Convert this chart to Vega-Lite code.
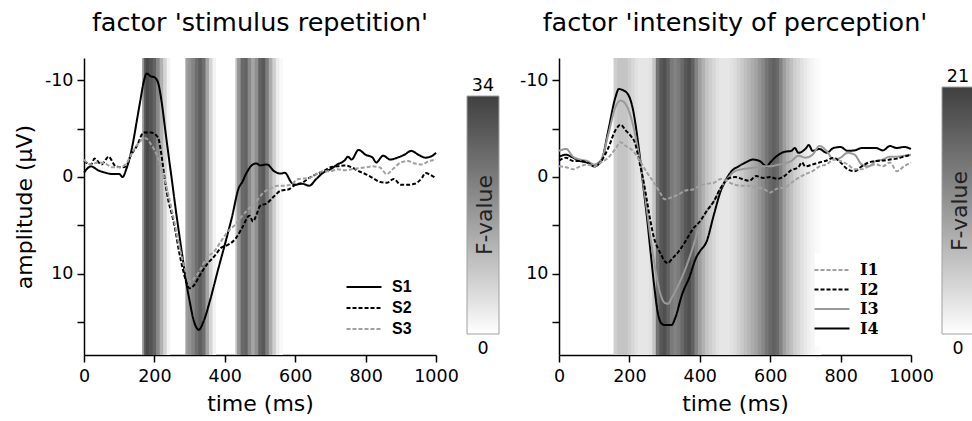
{
  "$schema": "https://vega.github.io/schema/vega-lite/v6.json",
  "background": "white",
  "padding": {"left": 13, "top": 10, "right": 0, "bottom": 0},
  "spacing": 19,
  "resolve": {
    "scale": {"fill": "independent", "stroke": "independent", "strokeDash": "independent"},
    "legend": {"fill": "independent", "stroke": "independent", "strokeDash": "independent"}
  },
  "config": {
    "font": "DejaVu Sans",
    "view": {"stroke": null},
    "axis": {
      "domainColor": "black", "domainWidth": 1.5, "tickColor": "black", "tickWidth": 1.5, "tickSize": 7,
      "labelFont": "DejaVu Sans", "labelFontSize": 17.5, "labelColor": "black", "labelPadding": 4,
      "titleFont": "DejaVu Sans", "titleFontSize": 22, "titleFontWeight": "normal", "titleColor": "black",
      "grid": false, "labelOverlap": false, "labelFlush": false
    },
    "axisX": {"labelPadding": 5},
    "title": {"font": "DejaVu Sans", "fontSize": 25.5, "fontWeight": "normal", "color": "black", "offset": 22}
  },
  "datasets": {
    "F1": [
      {"t0": 165, "t1": 172, "F": 16}, {"t0": 170, "t1": 177, "F": 28}, {"t0": 175, "t1": 187, "F": 32},
      {"t0": 185, "t1": 197, "F": 30}, {"t0": 195, "t1": 207, "F": 27}, {"t0": 205, "t1": 217, "F": 20},
      {"t0": 215, "t1": 227, "F": 13}, {"t0": 225, "t1": 237, "F": 7}, {"t0": 235, "t1": 245, "F": 2},
      {"t0": 288, "t1": 297, "F": 16}, {"t0": 295, "t1": 307, "F": 18}, {"t0": 305, "t1": 317, "F": 21},
      {"t0": 315, "t1": 327, "F": 25}, {"t0": 325, "t1": 337, "F": 28}, {"t0": 335, "t1": 347, "F": 25},
      {"t0": 345, "t1": 357, "F": 15}, {"t0": 355, "t1": 367, "F": 7}, {"t0": 365, "t1": 375, "F": 2},
      {"t0": 430, "t1": 437, "F": 10}, {"t0": 435, "t1": 447, "F": 18}, {"t0": 445, "t1": 457, "F": 26},
      {"t0": 455, "t1": 467, "F": 27}, {"t0": 465, "t1": 477, "F": 20}, {"t0": 475, "t1": 487, "F": 15},
      {"t0": 485, "t1": 497, "F": 19}, {"t0": 495, "t1": 507, "F": 27}, {"t0": 505, "t1": 517, "F": 29},
      {"t0": 515, "t1": 527, "F": 22}, {"t0": 525, "t1": 537, "F": 14}, {"t0": 535, "t1": 547, "F": 8},
      {"t0": 545, "t1": 557, "F": 3}, {"t0": 555, "t1": 565, "F": 1}
    ],
    "F2": [
      {"t0": 155, "t1": 167, "F": 5}, {"t0": 165, "t1": 177, "F": 6}, {"t0": 175, "t1": 187, "F": 6},
      {"t0": 185, "t1": 197, "F": 6}, {"t0": 195, "t1": 207, "F": 5}, {"t0": 205, "t1": 217, "F": 4},
      {"t0": 215, "t1": 227, "F": 3}, {"t0": 225, "t1": 237, "F": 2.5}, {"t0": 235, "t1": 247, "F": 2.5},
      {"t0": 245, "t1": 257, "F": 2.5}, {"t0": 255, "t1": 267, "F": 3}, {"t0": 265, "t1": 277, "F": 6},
      {"t0": 275, "t1": 287, "F": 15}, {"t0": 285, "t1": 297, "F": 18}, {"t0": 295, "t1": 307, "F": 19},
      {"t0": 305, "t1": 317, "F": 17}, {"t0": 315, "t1": 327, "F": 14}, {"t0": 325, "t1": 337, "F": 13},
      {"t0": 335, "t1": 347, "F": 14}, {"t0": 345, "t1": 357, "F": 16}, {"t0": 355, "t1": 367, "F": 18},
      {"t0": 365, "t1": 377, "F": 19}, {"t0": 375, "t1": 387, "F": 17}, {"t0": 385, "t1": 397, "F": 13},
      {"t0": 395, "t1": 407, "F": 10}, {"t0": 405, "t1": 417, "F": 8}, {"t0": 415, "t1": 427, "F": 6},
      {"t0": 425, "t1": 437, "F": 5}, {"t0": 435, "t1": 447, "F": 4}, {"t0": 445, "t1": 457, "F": 3},
      {"t0": 455, "t1": 467, "F": 2.5}, {"t0": 465, "t1": 477, "F": 2.5}, {"t0": 475, "t1": 487, "F": 2.5},
      {"t0": 485, "t1": 497, "F": 3}, {"t0": 495, "t1": 507, "F": 3.5}, {"t0": 505, "t1": 517, "F": 4.5},
      {"t0": 515, "t1": 527, "F": 5.5}, {"t0": 525, "t1": 537, "F": 6.5}, {"t0": 535, "t1": 547, "F": 7.5},
      {"t0": 545, "t1": 557, "F": 8.5}, {"t0": 555, "t1": 567, "F": 9.5}, {"t0": 565, "t1": 577, "F": 11},
      {"t0": 575, "t1": 587, "F": 12.5}, {"t0": 585, "t1": 597, "F": 14.5}, {"t0": 595, "t1": 607, "F": 16},
      {"t0": 605, "t1": 617, "F": 17}, {"t0": 615, "t1": 627, "F": 16}, {"t0": 625, "t1": 637, "F": 13},
      {"t0": 635, "t1": 647, "F": 10}, {"t0": 645, "t1": 657, "F": 8}, {"t0": 655, "t1": 667, "F": 6.5},
      {"t0": 665, "t1": 677, "F": 5}, {"t0": 675, "t1": 687, "F": 4}, {"t0": 685, "t1": 697, "F": 3},
      {"t0": 695, "t1": 707, "F": 2.2}, {"t0": 705, "t1": 717, "F": 1.5}, {"t0": 715, "t1": 727, "F": 1},
      {"t0": 725, "t1": 737, "F": 0.6}, {"t0": 735, "t1": 745, "F": 0.3}
    ],
    "S": [
      {"s": "S1", "t": 0, "v": -0.45}, {"s": "S1", "t": 20, "v": -1.1}, {"s": "S1", "t": 40, "v": -0.7},
      {"s": "S1", "t": 60, "v": -0.45}, {"s": "S1", "t": 80, "v": -0.3}, {"s": "S1", "t": 100, "v": -0.3},
      {"s": "S1", "t": 110, "v": 0}, {"s": "S1", "t": 120, "v": -0.8}, {"s": "S1", "t": 130, "v": -2},
      {"s": "S1", "t": 140, "v": -3.7}, {"s": "S1", "t": 150, "v": -5.8}, {"s": "S1", "t": 160, "v": -7.9},
      {"s": "S1", "t": 170, "v": -9.9}, {"s": "S1", "t": 178, "v": -10.7}, {"s": "S1", "t": 190, "v": -10.4},
      {"s": "S1", "t": 200, "v": -10.3}, {"s": "S1", "t": 210, "v": -9.8}, {"s": "S1", "t": 220, "v": -7.9},
      {"s": "S1", "t": 230, "v": -5.1}, {"s": "S1", "t": 240, "v": -2.3}, {"s": "S1", "t": 250, "v": 0.4},
      {"s": "S1", "t": 260, "v": 3.2}, {"s": "S1", "t": 270, "v": 5.8}, {"s": "S1", "t": 280, "v": 8.3},
      {"s": "S1", "t": 290, "v": 10.8}, {"s": "S1", "t": 300, "v": 12.8}, {"s": "S1", "t": 310, "v": 14.6},
      {"s": "S1", "t": 320, "v": 15.6}, {"s": "S1", "t": 326, "v": 15.8}, {"s": "S1", "t": 340, "v": 14.9},
      {"s": "S1", "t": 360, "v": 12.5}, {"s": "S1", "t": 380, "v": 9.7}, {"s": "S1", "t": 400, "v": 7},
      {"s": "S1", "t": 420, "v": 4.2}, {"s": "S1", "t": 440, "v": 1.1}, {"s": "S1", "t": 450, "v": 0.5},
      {"s": "S1", "t": 460, "v": -0.3}, {"s": "S1", "t": 480, "v": -1.3}, {"s": "S1", "t": 490, "v": -1.4},
      {"s": "S1", "t": 500, "v": -1.2}, {"s": "S1", "t": 520, "v": -1.3}, {"s": "S1", "t": 540, "v": -0.6},
      {"s": "S1", "t": 560, "v": -0.35}, {"s": "S1", "t": 570, "v": -0.45}, {"s": "S1", "t": 590, "v": 0.6},
      {"s": "S1", "t": 600, "v": 0.8}, {"s": "S1", "t": 620, "v": 0.7}, {"s": "S1", "t": 640, "v": 0.9},
      {"s": "S1", "t": 660, "v": 0.2}, {"s": "S1", "t": 680, "v": -0.45}, {"s": "S1", "t": 700, "v": -0.8},
      {"s": "S1", "t": 720, "v": -1.3}, {"s": "S1", "t": 740, "v": -1.7}, {"s": "S1", "t": 750, "v": -2.1},
      {"s": "S1", "t": 760, "v": -1.8}, {"s": "S1", "t": 780, "v": -2.8}, {"s": "S1", "t": 800, "v": -2.3},
      {"s": "S1", "t": 820, "v": -2}, {"s": "S1", "t": 830, "v": -1.5}, {"s": "S1", "t": 850, "v": -2.2},
      {"s": "S1", "t": 870, "v": -1.8}, {"s": "S1", "t": 890, "v": -2}, {"s": "S1", "t": 910, "v": -2.3},
      {"s": "S1", "t": 930, "v": -2.7}, {"s": "S1", "t": 950, "v": -2.3}, {"s": "S1", "t": 970, "v": -2},
      {"s": "S1", "t": 990, "v": -2.2}, {"s": "S1", "t": 1000, "v": -2.5},

      {"s": "S2", "t": 0, "v": -1.65}, {"s": "S2", "t": 20, "v": -1.3}, {"s": "S2", "t": 30, "v": -1.9},
      {"s": "S2", "t": 50, "v": -1.3}, {"s": "S2", "t": 70, "v": -2.1}, {"s": "S2", "t": 90, "v": -1.1},
      {"s": "S2", "t": 110, "v": -1}, {"s": "S2", "t": 120, "v": -1.1}, {"s": "S2", "t": 130, "v": -2},
      {"s": "S2", "t": 150, "v": -3.2}, {"s": "S2", "t": 170, "v": -4.6}, {"s": "S2", "t": 190, "v": -4.6},
      {"s": "S2", "t": 210, "v": -4.1}, {"s": "S2", "t": 220, "v": -2.3}, {"s": "S2", "t": 230, "v": 0.4},
      {"s": "S2", "t": 240, "v": 2.5}, {"s": "S2", "t": 250, "v": 3.9}, {"s": "S2", "t": 260, "v": 5.6},
      {"s": "S2", "t": 270, "v": 7.7}, {"s": "S2", "t": 280, "v": 9.4}, {"s": "S2", "t": 290, "v": 10.8},
      {"s": "S2", "t": 300, "v": 11.5}, {"s": "S2", "t": 310, "v": 11.3}, {"s": "S2", "t": 330, "v": 10.1},
      {"s": "S2", "t": 350, "v": 9}, {"s": "S2", "t": 370, "v": 8.2}, {"s": "S2", "t": 390, "v": 7.3},
      {"s": "S2", "t": 410, "v": 7}, {"s": "S2", "t": 430, "v": 6.4}, {"s": "S2", "t": 450, "v": 5.2},
      {"s": "S2", "t": 470, "v": 4}, {"s": "S2", "t": 480, "v": 4.6}, {"s": "S2", "t": 490, "v": 3.9},
      {"s": "S2", "t": 500, "v": 3}, {"s": "S2", "t": 520, "v": 2.7}, {"s": "S2", "t": 540, "v": 2},
      {"s": "S2", "t": 560, "v": 1.4}, {"s": "S2", "t": 580, "v": 1.3}, {"s": "S2", "t": 600, "v": 0.8},
      {"s": "S2", "t": 620, "v": 0.6}, {"s": "S2", "t": 640, "v": 0.1}, {"s": "S2", "t": 660, "v": -0.3},
      {"s": "S2", "t": 680, "v": -0.6}, {"s": "S2", "t": 700, "v": -1}, {"s": "S2", "t": 720, "v": -1.1},
      {"s": "S2", "t": 740, "v": -1.2}, {"s": "S2", "t": 760, "v": -1}, {"s": "S2", "t": 780, "v": -0.6},
      {"s": "S2", "t": 800, "v": -0.3}, {"s": "S2", "t": 820, "v": 0.1}, {"s": "S2", "t": 840, "v": 0.5},
      {"s": "S2", "t": 860, "v": 0.6}, {"s": "S2", "t": 880, "v": 0.2}, {"s": "S2", "t": 900, "v": 0.8},
      {"s": "S2", "t": 920, "v": 0.8}, {"s": "S2", "t": 940, "v": 0.7}, {"s": "S2", "t": 960, "v": 0.1},
      {"s": "S2", "t": 970, "v": -0.4}, {"s": "S2", "t": 990, "v": -0.1}, {"s": "S2", "t": 1000, "v": 0.1},

      {"s": "S3", "t": 0, "v": -1.8}, {"s": "S3", "t": 20, "v": -1.3}, {"s": "S3", "t": 40, "v": -1.5},
      {"s": "S3", "t": 60, "v": -1.4}, {"s": "S3", "t": 80, "v": -1}, {"s": "S3", "t": 100, "v": -1},
      {"s": "S3", "t": 120, "v": -1.4}, {"s": "S3", "t": 140, "v": -2.7}, {"s": "S3", "t": 160, "v": -3.7},
      {"s": "S3", "t": 175, "v": -4}, {"s": "S3", "t": 190, "v": -3.4}, {"s": "S3", "t": 210, "v": -2},
      {"s": "S3", "t": 230, "v": 0.4}, {"s": "S3", "t": 250, "v": 3.5}, {"s": "S3", "t": 270, "v": 7},
      {"s": "S3", "t": 290, "v": 9.9}, {"s": "S3", "t": 300, "v": 10.8}, {"s": "S3", "t": 310, "v": 10.6},
      {"s": "S3", "t": 330, "v": 9.6}, {"s": "S3", "t": 350, "v": 8.3}, {"s": "S3", "t": 370, "v": 7.7},
      {"s": "S3", "t": 390, "v": 6.6}, {"s": "S3", "t": 410, "v": 5.6}, {"s": "S3", "t": 430, "v": 4.9},
      {"s": "S3", "t": 450, "v": 4}, {"s": "S3", "t": 470, "v": 3.2}, {"s": "S3", "t": 490, "v": 2.5},
      {"s": "S3", "t": 510, "v": 1.6}, {"s": "S3", "t": 530, "v": 1.2}, {"s": "S3", "t": 550, "v": 0.9},
      {"s": "S3", "t": 570, "v": 0.9}, {"s": "S3", "t": 590, "v": 0.7}, {"s": "S3", "t": 610, "v": 0.2},
      {"s": "S3", "t": 640, "v": 0.1}, {"s": "S3", "t": 660, "v": -0.3}, {"s": "S3", "t": 680, "v": -0.6},
      {"s": "S3", "t": 700, "v": -0.6}, {"s": "S3", "t": 720, "v": -0.8}, {"s": "S3", "t": 740, "v": -0.7},
      {"s": "S3", "t": 760, "v": -0.8}, {"s": "S3", "t": 780, "v": -0.9}, {"s": "S3", "t": 800, "v": -1},
      {"s": "S3", "t": 820, "v": -1.1}, {"s": "S3", "t": 840, "v": -1}, {"s": "S3", "t": 860, "v": -0.3},
      {"s": "S3", "t": 880, "v": -0.9}, {"s": "S3", "t": 900, "v": -1.5}, {"s": "S3", "t": 920, "v": -1.65},
      {"s": "S3", "t": 940, "v": -1.4}, {"s": "S3", "t": 960, "v": -1.3}, {"s": "S3", "t": 980, "v": -1.65},
      {"s": "S3", "t": 1000, "v": -1.8}
    ],
    "I": [
      {"s": "I4", "t": 0, "v": -2.1}, {"s": "I4", "t": 20, "v": -2.3}, {"s": "I4", "t": 40, "v": -2},
      {"s": "I4", "t": 60, "v": -1.65}, {"s": "I4", "t": 80, "v": -1.5}, {"s": "I4", "t": 100, "v": -1.1},
      {"s": "I4", "t": 120, "v": -1.65}, {"s": "I4", "t": 140, "v": -4.8}, {"s": "I4", "t": 160, "v": -8.2},
      {"s": "I4", "t": 170, "v": -9.1}, {"s": "I4", "t": 180, "v": -9}, {"s": "I4", "t": 195, "v": -8.6},
      {"s": "I4", "t": 210, "v": -7}, {"s": "I4", "t": 220, "v": -4.8}, {"s": "I4", "t": 230, "v": -2},
      {"s": "I4", "t": 240, "v": 1.1}, {"s": "I4", "t": 250, "v": 4.2}, {"s": "I4", "t": 260, "v": 7.7},
      {"s": "I4", "t": 270, "v": 11.1}, {"s": "I4", "t": 280, "v": 13.9}, {"s": "I4", "t": 290, "v": 15.1},
      {"s": "I4", "t": 300, "v": 15.3}, {"s": "I4", "t": 320, "v": 15.3}, {"s": "I4", "t": 330, "v": 14.6},
      {"s": "I4", "t": 350, "v": 12.1}, {"s": "I4", "t": 370, "v": 10.4}, {"s": "I4", "t": 390, "v": 8.3},
      {"s": "I4", "t": 400, "v": 7.7}, {"s": "I4", "t": 420, "v": 6.6}, {"s": "I4", "t": 440, "v": 3.9},
      {"s": "I4", "t": 460, "v": 1.4}, {"s": "I4", "t": 470, "v": 0.6}, {"s": "I4", "t": 490, "v": -0.6},
      {"s": "I4", "t": 510, "v": -1.1}, {"s": "I4", "t": 530, "v": -1.5}, {"s": "I4", "t": 550, "v": -1.8},
      {"s": "I4", "t": 570, "v": -1.65}, {"s": "I4", "t": 590, "v": -1.1}, {"s": "I4", "t": 600, "v": -1.5},
      {"s": "I4", "t": 620, "v": -2.2}, {"s": "I4", "t": 640, "v": -2.6}, {"s": "I4", "t": 660, "v": -2.7},
      {"s": "I4", "t": 670, "v": -3}, {"s": "I4", "t": 680, "v": -2.5}, {"s": "I4", "t": 700, "v": -2.9},
      {"s": "I4", "t": 710, "v": -3.3}, {"s": "I4", "t": 720, "v": -2.7}, {"s": "I4", "t": 740, "v": -2.9},
      {"s": "I4", "t": 760, "v": -2.5}, {"s": "I4", "t": 780, "v": -3}, {"s": "I4", "t": 800, "v": -3.1},
      {"s": "I4", "t": 820, "v": -2.7}, {"s": "I4", "t": 840, "v": -2.75}, {"s": "I4", "t": 860, "v": -3},
      {"s": "I4", "t": 880, "v": -3}, {"s": "I4", "t": 900, "v": -3}, {"s": "I4", "t": 920, "v": -2.75},
      {"s": "I4", "t": 940, "v": -3.2}, {"s": "I4", "t": 960, "v": -3}, {"s": "I4", "t": 980, "v": -3.1},
      {"s": "I4", "t": 1000, "v": -2.9},

      {"s": "I3", "t": 0, "v": -2.7}, {"s": "I3", "t": 20, "v": -2.9}, {"s": "I3", "t": 40, "v": -2.1},
      {"s": "I3", "t": 60, "v": -1.8}, {"s": "I3", "t": 80, "v": -1.65}, {"s": "I3", "t": 100, "v": -1.3},
      {"s": "I3", "t": 120, "v": -1.8}, {"s": "I3", "t": 140, "v": -4.4}, {"s": "I3", "t": 160, "v": -7.2},
      {"s": "I3", "t": 175, "v": -7.9}, {"s": "I3", "t": 190, "v": -7.5}, {"s": "I3", "t": 205, "v": -6.1},
      {"s": "I3", "t": 220, "v": -3.7}, {"s": "I3", "t": 230, "v": -1.65}, {"s": "I3", "t": 240, "v": 0.8},
      {"s": "I3", "t": 250, "v": 3.5}, {"s": "I3", "t": 260, "v": 6.3}, {"s": "I3", "t": 270, "v": 8.7},
      {"s": "I3", "t": 280, "v": 10.8}, {"s": "I3", "t": 290, "v": 12.3}, {"s": "I3", "t": 300, "v": 13},
      {"s": "I3", "t": 310, "v": 13.1}, {"s": "I3", "t": 320, "v": 12.5}, {"s": "I3", "t": 340, "v": 11.1},
      {"s": "I3", "t": 360, "v": 9.4}, {"s": "I3", "t": 380, "v": 7.3}, {"s": "I3", "t": 400, "v": 4.9},
      {"s": "I3", "t": 420, "v": 3.5}, {"s": "I3", "t": 440, "v": 2.5}, {"s": "I3", "t": 460, "v": 1.1},
      {"s": "I3", "t": 480, "v": 0.1}, {"s": "I3", "t": 500, "v": -0.6}, {"s": "I3", "t": 520, "v": -0.8},
      {"s": "I3", "t": 540, "v": -0.9}, {"s": "I3", "t": 560, "v": -1}, {"s": "I3", "t": 580, "v": -1.1},
      {"s": "I3", "t": 600, "v": -1.1}, {"s": "I3", "t": 620, "v": -1.25}, {"s": "I3", "t": 640, "v": -1.4},
      {"s": "I3", "t": 660, "v": -1.65}, {"s": "I3", "t": 680, "v": -2.2}, {"s": "I3", "t": 700, "v": -2},
      {"s": "I3", "t": 720, "v": -2.3}, {"s": "I3", "t": 740, "v": -3.2}, {"s": "I3", "t": 760, "v": -2.7},
      {"s": "I3", "t": 780, "v": -1.8}, {"s": "I3", "t": 800, "v": -2}, {"s": "I3", "t": 820, "v": -2.5},
      {"s": "I3", "t": 840, "v": -2.3}, {"s": "I3", "t": 860, "v": -1.3}, {"s": "I3", "t": 880, "v": -1.1},
      {"s": "I3", "t": 900, "v": -1.65}, {"s": "I3", "t": 920, "v": -1.8}, {"s": "I3", "t": 940, "v": -2.1},
      {"s": "I3", "t": 960, "v": -2.1}, {"s": "I3", "t": 980, "v": -2.2}, {"s": "I3", "t": 1000, "v": -2.3},

      {"s": "I2", "t": 0, "v": -1.7}, {"s": "I2", "t": 20, "v": -2}, {"s": "I2", "t": 40, "v": -1.65},
      {"s": "I2", "t": 60, "v": -1.65}, {"s": "I2", "t": 80, "v": -1.5}, {"s": "I2", "t": 100, "v": -1.1},
      {"s": "I2", "t": 120, "v": -1.65}, {"s": "I2", "t": 140, "v": -3}, {"s": "I2", "t": 160, "v": -4.8},
      {"s": "I2", "t": 175, "v": -5.4}, {"s": "I2", "t": 190, "v": -4.8}, {"s": "I2", "t": 205, "v": -4.2},
      {"s": "I2", "t": 215, "v": -3.6}, {"s": "I2", "t": 230, "v": -1.3}, {"s": "I2", "t": 240, "v": 0.4},
      {"s": "I2", "t": 250, "v": 2.5}, {"s": "I2", "t": 260, "v": 4.6}, {"s": "I2", "t": 270, "v": 6.3},
      {"s": "I2", "t": 280, "v": 7.3}, {"s": "I2", "t": 290, "v": 8}, {"s": "I2", "t": 300, "v": 8.7},
      {"s": "I2", "t": 310, "v": 8.9}, {"s": "I2", "t": 320, "v": 8.5}, {"s": "I2", "t": 340, "v": 7.7},
      {"s": "I2", "t": 360, "v": 6.6}, {"s": "I2", "t": 380, "v": 5.4}, {"s": "I2", "t": 400, "v": 4.6},
      {"s": "I2", "t": 420, "v": 3.5}, {"s": "I2", "t": 440, "v": 2.5}, {"s": "I2", "t": 460, "v": 1.1},
      {"s": "I2", "t": 480, "v": 0.2}, {"s": "I2", "t": 500, "v": 0}, {"s": "I2", "t": 520, "v": 0.2},
      {"s": "I2", "t": 540, "v": 0.4}, {"s": "I2", "t": 560, "v": -0.1}, {"s": "I2", "t": 580, "v": 0.1},
      {"s": "I2", "t": 600, "v": 0}, {"s": "I2", "t": 620, "v": 0.2}, {"s": "I2", "t": 640, "v": -0.1},
      {"s": "I2", "t": 660, "v": -0.7}, {"s": "I2", "t": 680, "v": -1}, {"s": "I2", "t": 690, "v": -1.5},
      {"s": "I2", "t": 700, "v": -1.1}, {"s": "I2", "t": 720, "v": -1.3}, {"s": "I2", "t": 740, "v": -1.5},
      {"s": "I2", "t": 760, "v": -1.7}, {"s": "I2", "t": 780, "v": -2}, {"s": "I2", "t": 800, "v": -1.5},
      {"s": "I2", "t": 820, "v": -0.8}, {"s": "I2", "t": 840, "v": -0.6}, {"s": "I2", "t": 860, "v": -1.1},
      {"s": "I2", "t": 880, "v": -1.5}, {"s": "I2", "t": 900, "v": -1.65}, {"s": "I2", "t": 920, "v": -1.7},
      {"s": "I2", "t": 940, "v": -1.8}, {"s": "I2", "t": 960, "v": -1.9}, {"s": "I2", "t": 980, "v": -2.1},
      {"s": "I2", "t": 1000, "v": -2.3},

      {"s": "I1", "t": 0, "v": -1.1}, {"s": "I1", "t": 20, "v": -1}, {"s": "I1", "t": 40, "v": -0.8},
      {"s": "I1", "t": 60, "v": -1.1}, {"s": "I1", "t": 80, "v": -1.3}, {"s": "I1", "t": 100, "v": -1.1},
      {"s": "I1", "t": 120, "v": -1.5}, {"s": "I1", "t": 140, "v": -2}, {"s": "I1", "t": 160, "v": -2.9},
      {"s": "I1", "t": 175, "v": -3.6}, {"s": "I1", "t": 190, "v": -3.2}, {"s": "I1", "t": 210, "v": -2.7},
      {"s": "I1", "t": 230, "v": -1.65}, {"s": "I1", "t": 250, "v": -0.45}, {"s": "I1", "t": 270, "v": 0.6},
      {"s": "I1", "t": 290, "v": 1.8}, {"s": "I1", "t": 300, "v": 2.3}, {"s": "I1", "t": 320, "v": 2.1},
      {"s": "I1", "t": 340, "v": 1.8}, {"s": "I1", "t": 360, "v": 1.4}, {"s": "I1", "t": 380, "v": 1.3},
      {"s": "I1", "t": 400, "v": 0.9}, {"s": "I1", "t": 420, "v": 0.7}, {"s": "I1", "t": 440, "v": 0.6},
      {"s": "I1", "t": 460, "v": 0.2}, {"s": "I1", "t": 480, "v": 0.5}, {"s": "I1", "t": 500, "v": 0.8},
      {"s": "I1", "t": 520, "v": 0.9}, {"s": "I1", "t": 540, "v": 0.9}, {"s": "I1", "t": 560, "v": 1.1},
      {"s": "I1", "t": 580, "v": 1.2}, {"s": "I1", "t": 600, "v": 1.6}, {"s": "I1", "t": 620, "v": 1.2},
      {"s": "I1", "t": 640, "v": 1.1}, {"s": "I1", "t": 660, "v": 0.6}, {"s": "I1", "t": 680, "v": 0.1},
      {"s": "I1", "t": 700, "v": -0.3}, {"s": "I1", "t": 720, "v": -0.6}, {"s": "I1", "t": 740, "v": -1.1},
      {"s": "I1", "t": 760, "v": -1.3}, {"s": "I1", "t": 780, "v": -1.8}, {"s": "I1", "t": 800, "v": -1.65},
      {"s": "I1", "t": 820, "v": -1.3}, {"s": "I1", "t": 840, "v": -0.8}, {"s": "I1", "t": 860, "v": -0.8},
      {"s": "I1", "t": 880, "v": -1.1}, {"s": "I1", "t": 900, "v": -1.3}, {"s": "I1", "t": 920, "v": -1.1},
      {"s": "I1", "t": 940, "v": -1.5}, {"s": "I1", "t": 960, "v": -0.6}, {"s": "I1", "t": 980, "v": -1.1},
      {"s": "I1", "t": 1000, "v": -1.5}
    ]
  },
  "hconcat": [
    {
      "title": {"text": "factor 'stimulus repetition'"},
      "width": 352,
      "height": 297,
      "layer": [
        {
          "data": {"name": "F1"},
          "mark": {"type": "rect"},
          "encoding": {
            "x": {"field": "t0", "type": "quantitative", "title": "time (ms)",
                  "scale": {"domain": [0, 1000], "nice": false},
                  "axis": {"values": [0, 100, 200, 300, 400, 500, 600, 700, 800, 900, 1000],
                           "labelExpr": "datum.value % 200 == 0 ? '' + datum.value : ''", "titlePadding": 9}},
            "x2": {"field": "t1"},
            "fill": {"field": "F", "type": "quantitative", "title": "F-value",
                     "scale": {"domain": [0, 34], "range": ["#ffffff", "#404040"]},
                     "legend": {"orient": "none", "legendX": 390, "legendY": 38, "direction": "vertical",
                                "gradientLength": 238, "gradientThickness": 32,
                                "gradientStrokeColor": "#a0a0a0", "gradientStrokeWidth": 1,
                                "values": [0, 34], "labelFontSize": 17.5, "labelColor": "black", "labelOverlap": false,
                                "titleOrient": "left", "titleAngle": 270, "titleFontSize": 22, "titleFontWeight": "normal",
                                "titleColor": "#222", "titlePadding": -31, "titleAnchor": "middle",
                                "encode": {"labels": {"update": {"align": {"value": "center"}, "x": {"value": 16},
                                  "baseline": {"signal": "datum.perc <= 0 ? 'top' : 'bottom'"},
                                  "dy": {"signal": "datum.perc <= 0 ? 6 : -1"}}}}}}
          }
        },
        {
          "data": {"name": "S"},
          "mark": {"type": "line", "strokeWidth": 2, "interpolate": "monotone"},
          "encoding": {
            "x": {"field": "t", "type": "quantitative", "title": "time (ms)"},
            "y": {"field": "v", "type": "quantitative", "title": "amplitude (μV)",
                  "scale": {"domain": [-12.3, 18.4], "reverse": true, "nice": false, "zero": false},
                  "axis": {"values": [-10, -5, 0, 5, 10, 15],
                           "labelExpr": "datum.value % 10 == 0 ? '' + datum.value : ''", "titlePadding": 8}},
            "stroke": {"field": "s", "type": "nominal", "title": null,
                       "scale": {"domain": ["S1", "S2", "S3"], "range": ["#000000", "#000000", "#a0a0a0"]},
                       "legend": {"orient": "none", "legendX": 272, "legendY": 221, "padding": 0,
                                  "symbolType": "M-3.5,0H3.5", "symbolSize": 100, "symbolStrokeWidth": 2,
                                  "labelOffset": 20, "labelFont": "Liberation Sans", "labelFontWeight": "bold",
                                  "labelFontSize": 16, "labelColor": "black", "rowPadding": 5}},
            "strokeDash": {"field": "s", "type": "nominal", "title": null,
                           "scale": {"domain": ["S1", "S2", "S3"], "range": [[1, 0], [4, 2], [4, 2]]},
                           "legend": {"orient": "none", "legendX": 272, "legendY": 221, "padding": 0,
                                  "symbolType": "M-3.5,0H3.5", "symbolSize": 100, "symbolStrokeWidth": 2,
                                  "labelOffset": 20, "labelFont": "Liberation Sans", "labelFontWeight": "bold",
                                  "labelFontSize": 16, "labelColor": "black", "rowPadding": 5}}
          }
        }
      ]
    },
    {
      "title": {"text": "factor 'intensity of perception'"},
      "width": 352,
      "height": 297,
      "layer": [
        {
          "data": {"name": "F2"},
          "mark": {"type": "rect"},
          "encoding": {
            "x": {"field": "t0", "type": "quantitative", "title": "time (ms)",
                  "scale": {"domain": [0, 1000], "nice": false},
                  "axis": {"values": [0, 100, 200, 300, 400, 500, 600, 700, 800, 900, 1000],
                           "labelExpr": "datum.value % 200 == 0 ? '' + datum.value : ''", "titlePadding": 9}},
            "x2": {"field": "t1"},
            "fill": {"field": "F", "type": "quantitative", "title": "F-value",
                     "scale": {"domain": [0, 21], "range": ["#ffffff", "#404040"]},
                     "legend": {"orient": "none", "legendX": 390, "legendY": 29, "direction": "vertical",
                                "gradientLength": 247, "gradientThickness": 32,
                                "gradientStrokeColor": "#a0a0a0", "gradientStrokeWidth": 1,
                                "values": [0, 21], "labelFontSize": 17.5, "labelColor": "black", "labelOverlap": false,
                                "titleOrient": "left", "titleAngle": 270, "titleFontSize": 22, "titleFontWeight": "normal",
                                "titleColor": "#222", "titlePadding": -31, "titleAnchor": "middle",
                                "encode": {"labels": {"update": {"align": {"value": "center"}, "x": {"value": 16},
                                  "baseline": {"signal": "datum.perc <= 0 ? 'top' : 'bottom'"},
                                  "dy": {"signal": "datum.perc <= 0 ? 6 : -1"}}}}}}
          }
        },
        {
          "data": {"name": "I"},
          "mark": {"type": "line", "strokeWidth": 2, "interpolate": "monotone"},
          "encoding": {
            "x": {"field": "t", "type": "quantitative", "title": "time (ms)"},
            "y": {"field": "v", "type": "quantitative",
                  "scale": {"domain": [-12.3, 18.4], "reverse": true, "nice": false, "zero": false},
                  "axis": {"title": null, "values": [-10, -5, 0, 5, 10, 15],
                           "labelExpr": "datum.value % 10 == 0 ? '' + datum.value : ''"}},
            "stroke": {"field": "s", "type": "nominal", "title": null,
                       "scale": {"domain": ["I1", "I2", "I3", "I4"], "range": ["#a0a0a0", "#000000", "#999999", "#000000"]},
                       "legend": {"orient": "none", "legendX": 256, "legendY": 195, "padding": 9, "fillColor": "white",
                                  "symbolType": "M-3.5,0H3.5", "symbolSize": 100, "symbolStrokeWidth": 2,
                                  "labelOffset": 20, "labelFont": "DejaVu Serif", "labelFontWeight": "bold",
                                  "labelFontSize": 16, "labelColor": "black", "rowPadding": 3.5}},
            "strokeDash": {"field": "s", "type": "nominal", "title": null,
                           "scale": {"domain": ["I1", "I2", "I3", "I4"], "range": [[4, 2], [4, 2], [1, 0], [1, 0]]},
                           "legend": {"orient": "none", "legendX": 256, "legendY": 195, "padding": 9, "fillColor": "white",
                                  "symbolType": "M-3.5,0H3.5", "symbolSize": 100, "symbolStrokeWidth": 2,
                                  "labelOffset": 20, "labelFont": "DejaVu Serif", "labelFontWeight": "bold",
                                  "labelFontSize": 16, "labelColor": "black", "rowPadding": 3.5}}
          }
        }
      ]
    }
  ]
}
